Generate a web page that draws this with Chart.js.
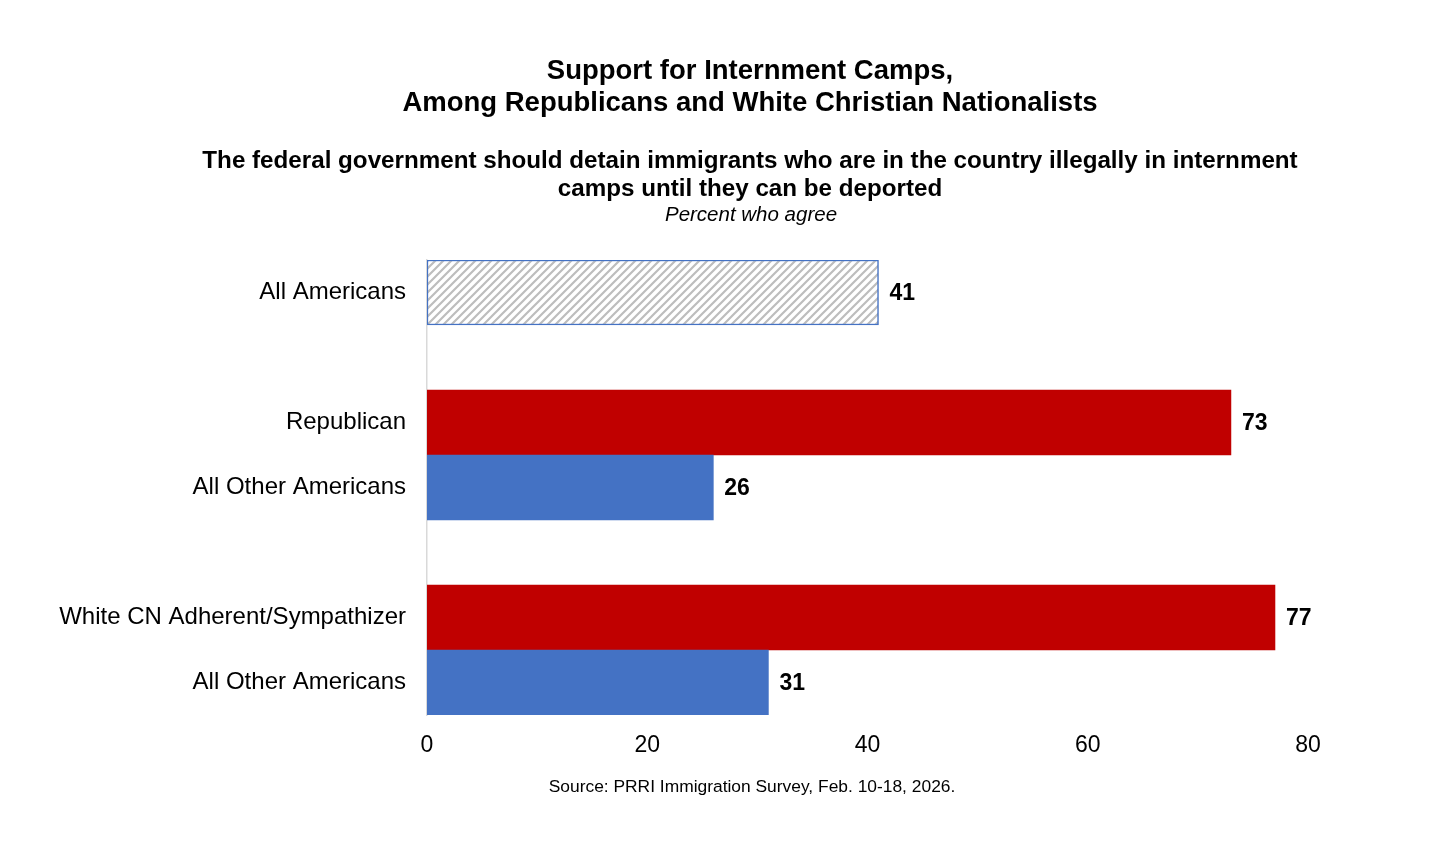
<!DOCTYPE html>
<html>
<head>
<meta charset="utf-8">
<script src="https://cdn.jsdelivr.net/npm/chart.js@4/dist/chart.umd.min.js"></script>
<style>
  html, body { margin: 0; padding: 0; background: #fff; }
  #wrap { width: 1456px; height: 865px; position: relative; }
</style>
</head>
<body>
<div id="wrap"><canvas id="c" width="1456" height="865"></canvas></div>
<script>
'use strict';
const categories = ['All Americans', '', 'Republican', 'All Other Americans', '', 'White CN Adherent/Sympathizer', 'All Other Americans'];
const values     = [41, null, 73, 26, null, 77, 31];
const xTicks     = [0, 20, 40, 60, 80];

const FONT = 'Arial, "Liberation Sans", sans-serif';

// diagonal hatch for the "All Americans" bar
function hatch() {
  const p = document.createElement('canvas');
  p.width = 8; p.height = 8;
  const g = p.getContext('2d');
  g.fillStyle = '#fff'; g.fillRect(0, 0, 8, 8);
  g.strokeStyle = '#bdbdbd'; g.lineWidth = 2.2;
  g.beginPath();
  g.moveTo(-2, 10); g.lineTo(10, -2);
  g.moveTo(-2, 2); g.lineTo(2, -2);
  g.moveTo(6, 10); g.lineTo(10, 6);
  g.stroke();
  return document.getElementById('c').getContext('2d').createPattern(p, 'repeat');
}

const fills   = [hatch(), null, '#c00000', '#4472c4', null, '#c00000', '#4472c4'];
const borders = ['#4472c4', null, '#c00000', '#4472c4', null, '#c00000', '#4472c4'];

const textPlugin = {
  id: 'texts',
  afterDraw(chart) {
    const ctx = chart.ctx;
    ctx.save();
    ctx.fillStyle = '#000';
    ctx.textAlign = 'center';
    ctx.textBaseline = 'middle';
    ctx.font = 'bold 27.5px ' + FONT;
    ctx.fillText('Support for Internment Camps,', 750, 71);
    ctx.fillText('Among Republicans and White Christian Nationalists', 750, 103);
    ctx.font = 'bold 24.2px ' + FONT;
    ctx.fillText('The federal government should detain immigrants who are in the country illegally in internment', 750, 161);
    ctx.fillText('camps until they can be deported', 750, 189);
    ctx.font = 'italic 20.5px ' + FONT;
    ctx.fillText('Percent who agree', 751, 215);
    ctx.font = '17.4px ' + FONT;
    ctx.fillText('Source: PRRI Immigration Survey, Feb. 10-18, 2026.', 752, 787);

    // value labels
    const meta = chart.getDatasetMeta(0);
    ctx.font = 'bold 23px ' + FONT;
    ctx.textAlign = 'left';
    meta.data.forEach((bar, i) => {
      if (values[i] == null) return;
      ctx.fillText(String(values[i]), bar.x + 11, bar.y + 1);
    });
    ctx.restore();
  }
};

new Chart(document.getElementById('c'), {
  type: 'bar',
  data: {
    labels: categories,
    datasets: [{
      data: values,
      backgroundColor: fills,
      borderColor: borders,
      borderWidth: [1.5, 0, 0, 0, 0, 0, 0],
      borderSkipped: false,
      barPercentage: 1,
      categoryPercentage: 1
    }]
  },
  options: {
    indexAxis: 'y',
    responsive: false,
    animation: false,
    layout: { padding: { top: 260, bottom: 100, left: 0, right: 148 } },
    plugins: { legend: { display: false }, tooltip: { enabled: false } },
    scales: {
      x: {
        min: 0, max: 80,
        afterFit: s => { s.height = 50; },
        afterBuildTicks: s => { s.ticks = xTicks.map(v => ({ value: v })); },
        grid: { display: false },
        border: { display: false },
        ticks: { color: '#000', font: { family: FONT, size: 23 }, padding: 9 }
      },
      y: {
        afterFit: s => { s.width = 427; },
        grid: { display: false },
        border: { display: true, color: '#d9d9d9', width: 1.5 },
        ticks: { color: '#000', font: { family: FONT, size: 24 }, padding: 13, autoSkip: false }
      }
    }
  },
  plugins: [textPlugin]
});
</script>
</body>
</html>
